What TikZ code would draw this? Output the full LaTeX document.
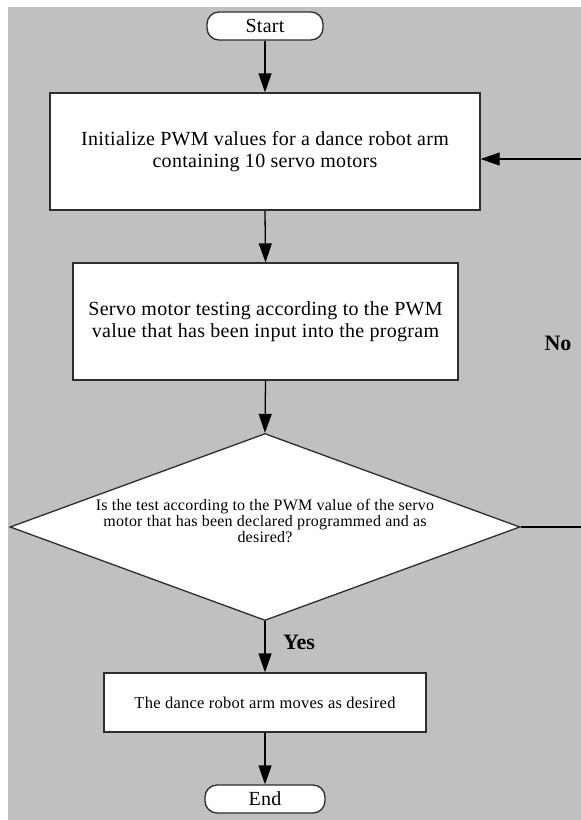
\documentclass[tikz,border=0pt]{standalone}
\usepackage{fontspec}
\setmainfont{Liberation Serif}
\newfontfamily\bxfont[LetterSpace=1.5]{Liberation Serif}
\usetikzlibrary{arrows.meta,shapes.geometric}
\definecolor{bggray}{RGB}{192,192,192}
\definecolor{edgegray}{RGB}{45,45,45}
\begin{document}
\begin{tikzpicture}[x=1pt,y=-1pt,
  box/.style={draw=edgegray,line width=1.3pt,fill=white,inner sep=0pt,align=center,
    font=\bxfont\fontsize{20}{22}\selectfont},
  term/.style={box,rounded corners=12pt},
  decision/.style={diamond,draw=edgegray,line width=1.3pt,fill=white,inner sep=0pt},
  qtext/.style={align=center,inner sep=0pt,font=\bxfont\fontsize{16}{13.5}\selectfont},
  flow/.style={line width=1.3pt,draw=black,-{Triangle[length=19pt,width=13pt]}},
  plain/.style={line width=1.3pt,draw=black},
  lbl/.style={inner sep=0pt,font=\bfseries\fontsize{22}{24}\selectfont}]
\useasboundingbox (0,0) rectangle (581,820);
\fill[bggray] (8,7) rectangle (581,820);

\node[term,minimum width=116pt,minimum height=28pt] (start) at (265,26) {Start};
\node[box,minimum width=430pt,minimum height=117pt] (b1) at (265,151.5)
  {Initialize PWM values for a dance robot arm\\containing 10 servo motors};
\node[box,minimum width=385pt,minimum height=117pt] (b2) at (265.5,321.5)
  {Servo motor testing according to the PWM\\value that has been input into the program};
\node[decision,minimum width=510pt,minimum height=187pt] (dia) at (265,527) {};
\node[qtext] (q) at (265,521)
  {Is the test according to the PWM value of the servo\\motor that has been declared programmed and as\\desired?};
\node[box,minimum width=322pt,minimum height=59pt,font=\bxfont\fontsize{16.5}{18}\selectfont] (b3) at (265,702.5)
  {The dance robot arm moves as desired};
\node[term,minimum width=120pt,minimum height=28pt] (end) at (265,799) {End};

\node[lbl] (yes) at (299,642) {Yes};
\node[lbl] (no) at (558,343) {No};

\coordinate (r1) at (581,527);
\coordinate (r2) at (581,159);

\draw[flow] (start.south) -- (b1.north);
\draw[flow] (b1.south) -- (b2.north);
\draw[flow] (b2.south) -- (dia.north);
\draw[flow] (dia.south) -- (b3.north);
\draw[flow] (b3.south) -- (end.north);
\draw[plain] (dia.east) -- (r1);
\draw[flow] (r2) -- (r2 -| b1.east);
\end{tikzpicture}
\end{document}
